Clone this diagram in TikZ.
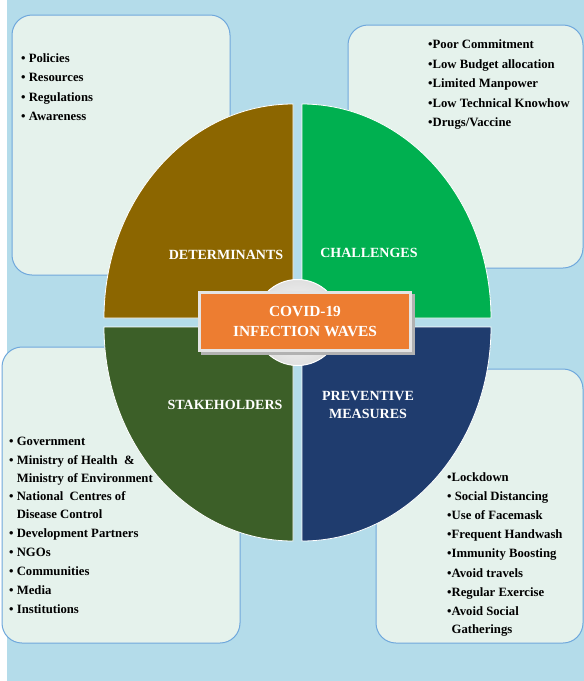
\documentclass[tikz,border=0pt]{standalone}
\usepackage{fontspec}
\setmainfont{Liberation Serif}
\definecolor{bgblue}{HTML}{B4DCEA}
\definecolor{boxfill}{HTML}{E5F2EC}
\definecolor{boxline}{HTML}{6FA8DC}
\definecolor{qbrown}{HTML}{8C6600}
\definecolor{qgreen}{HTML}{00B050}
\definecolor{qdark}{HTML}{3C5F28}
\definecolor{qnavy}{HTML}{1F3C6E}
\definecolor{torange}{HTML}{ED7D31}
\definecolor{tframe}{HTML}{E4E4E4}
\begin{document}
\begin{tikzpicture}[x=1pt,y=-1pt,
  infobox/.style={draw=boxline,line width=1pt,fill=boxfill,rounded corners=20pt},
  quad/.style={draw=white,line width=0.8pt},
  item/.style={anchor=base west,inner sep=0pt,font=\fontsize{12.7}{15}\selectfont\bfseries},
  head/.style={text=white,inner sep=0pt,align=center,font=\fontsize{14}{18}\selectfont\bfseries},
  title/.style={fill=torange,draw=tframe,line width=3pt,minimum width=211pt,minimum height=58pt,
    text=white,align=center,inner sep=0pt,font=\fontsize{15.4}{20.5}\selectfont\bfseries}]
\useasboundingbox (0,0) rectangle (584,681);
\fill[white] (0,0) rectangle (584,681);
\fill[bgblue] (7,0) rectangle (584,681);
% info boxes
\draw[infobox] (12,15) rectangle (230,275);
\draw[infobox] (348,25) rectangle (583,268);
\draw[infobox] (2,347) rectangle (240,643);
\draw[infobox] (376,369) rectangle (583,643);
% quadrants
\draw[quad,fill=qbrown] (293,318) -- (104,318) arc[start angle=180,end angle=90,x radius=189pt,y radius=214pt] -- cycle;
\draw[quad,fill=qgreen] (302,318) -- (302,104) arc[start angle=90,end angle=0,x radius=189pt,y radius=214pt] -- cycle;
\draw[quad,fill=qdark] (293,327) -- (104,327) arc[start angle=180,end angle=270,x radius=189pt,y radius=214pt] -- cycle;
\draw[quad,fill=qnavy] (302,327) -- (491,327) arc[start angle=0,end angle=-90,x radius=189pt,y radius=214pt] -- cycle;
% centre disc
\shade[inner color=white,outer color=gray!25] (297.5,322.5) circle (43pt);
\draw[white,line width=1pt] (297.5,322.5) circle (43pt);
% shadow + title
\fill[gray!60] (201,294) rectangle (415,355);
\node[title] (t) at (305,321.5) {COVID-19\\INFECTION WAVES};
% headings
\node[head] (h1) at (226,255) {DETERMINANTS};
\node[head] (h2) at (369,253) {CHALLENGES};
\node[head] (h3) at (225,405) {STAKEHOLDERS};
\node[head] (h4) at (368,405) {PREVENTIVE\\MEASURES};
% top-left items
\node[item] (a1) at (21,62) {\textbullet{} Policies};
\node[item] (a2) at (21,81.5) {\textbullet{} Resources};
\node[item] (a3) at (21,101) {\textbullet{} Regulations};
\node[item] (a4) at (21,120) {\textbullet{} Awareness};
% top-right items
\node[item] (b1) at (428,48.5) {\textbullet Poor Commitment};
\node[item] (b2) at (428,68) {\textbullet Low Budget allocation};
\node[item] (b3) at (428,87) {\textbullet Limited Manpower};
\node[item] (b4) at (428,107) {\textbullet Low Technical Knowhow};
\node[item] (b5) at (428,126.5) {\textbullet Drugs/Vaccine};
% bottom-left items
\node[item] (c1) at (9,445) {\textbullet{} Government};
\node[item] (c2) at (9,464) {\textbullet{} Ministry of Health~~\&};
\node[item] (c3) at (9,482) {\phantom{\textbullet{} }Ministry of Environment};
\node[item] (c4) at (9,500) {\textbullet{} National~ Centres of};
\node[item] (c5) at (9,518) {\phantom{\textbullet{} }Disease Control};
\node[item] (c6) at (9,537) {\textbullet{} Development Partners};
\node[item] (c7) at (9,556) {\textbullet{} NGOs};
\node[item] (c8) at (9,575) {\textbullet{} Communities};
\node[item] (c9) at (9,594) {\textbullet{} Media};
\node[item] (c10) at (9,613) {\textbullet{} Institutions};
% bottom-right items
\node[item] (d1) at (447,481) {\textbullet Lockdown};
\node[item] (d2) at (447,500) {\textbullet{} Social Distancing};
\node[item] (d3) at (447,519) {\textbullet Use of Facemask};
\node[item] (d4) at (447,538) {\textbullet Frequent Handwash};
\node[item] (d5) at (447,557) {\textbullet Immunity Boosting};
\node[item] (d6) at (447,577) {\textbullet Avoid travels};
\node[item] (d7) at (447,596) {\textbullet Regular Exercise};
\node[item] (d8) at (447,615) {\textbullet Avoid Social};
\node[item] (d9) at (447,633) {\phantom{\textbullet}Gatherings};
\end{tikzpicture}
\end{document}
